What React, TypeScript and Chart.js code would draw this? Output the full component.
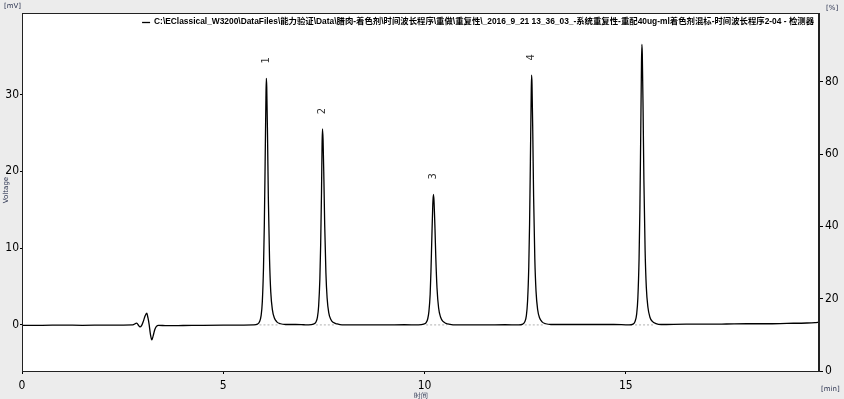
import React, { useEffect, useRef } from "react";
import { Chart, registerables } from "chart.js";

Chart.register(...registerables);

// ---- data (time in min, signal in mV) ----
const baseTime = [0, 0.5, 1.0, 1.5, 2.0, 2.5, 2.75, 2.85, 2.9, 2.93, 2.97, 3.01, 3.06, 3.1, 3.13, 3.16, 3.19, 3.226, 3.26, 3.3, 3.34, 3.39, 3.6, 4.0, 4.5, 5.0, 5.5, 6.8, 7.0, 8.5, 9.0, 9.5, 11.5, 12.0, 13.6, 14.2, 14.7, 16.5, 17.0, 17.5, 18.0, 18.5, 19.0, 19.5, 19.7, 19.8];
const baseMv = [-0.05, -0.05, -0.02, -0.05, -0.03, -0.02, 0.0, 0.22, -0.1, -0.26, -0.1, 0.4, 1.2, 1.52, 0.9, 0.0, -1.2, -1.95, -1.4, -0.6, -0.2, -0.05, -0.1, -0.08, -0.05, -0.03, -0.02, 0.05, 0.02, 0.0, 0.0, 0.02, 0.0, 0.02, 0.05, 0.05, 0.05, 0.1, 0.1, 0.12, 0.15, 0.15, 0.2, 0.25, 0.3, 0.35];

const peak1Time = [5.75, 5.85, 5.9, 5.94, 5.97, 6.0, 6.02, 6.04, 6.06, 6.07, 6.08, 6.1, 6.12, 6.15, 6.18, 6.22, 6.27, 6.33, 6.42, 6.55];
const peak1Mv = [0.0, 0.1, 0.4, 1.2, 3.0, 7.5, 13.0, 21.0, 29.5, 32.1, 31.0, 24.5, 16.5, 8.5, 4.3, 2.0, 0.9, 0.4, 0.15, 0.05];

const peak2Time = [7.12, 7.24, 7.3, 7.34, 7.37, 7.4, 7.42, 7.44, 7.455, 7.465, 7.48, 7.5, 7.52, 7.55, 7.58, 7.62, 7.67, 7.74, 7.83, 7.95];
const peak2Mv = [0.0, 0.1, 0.35, 1.0, 2.5, 6.0, 10.5, 17.0, 23.5, 25.5, 24.0, 19.0, 13.0, 6.8, 3.5, 1.6, 0.75, 0.3, 0.12, 0.0];

const peak3Time = [9.85, 9.98, 10.04, 10.08, 10.11, 10.14, 10.16, 10.18, 10.205, 10.22, 10.235, 10.26, 10.28, 10.31, 10.35, 10.4, 10.46, 10.53, 10.63, 10.76];
const peak3Mv = [0.0, 0.1, 0.3, 0.8, 1.8, 4.0, 7.0, 11.0, 15.6, 17.0, 16.2, 12.5, 8.8, 4.8, 2.2, 1.0, 0.45, 0.2, 0.08, 0.0];

const peak4Time = [12.34, 12.44, 12.49, 12.53, 12.56, 12.59, 12.61, 12.63, 12.65, 12.66, 12.67, 12.69, 12.71, 12.74, 12.77, 12.81, 12.86, 12.92, 13.01, 13.14];
const peak4Mv = [0.0, 0.1, 0.4, 1.2, 3.1, 7.6, 13.2, 21.3, 29.9, 32.5, 31.4, 24.8, 16.7, 8.6, 4.4, 2.0, 0.9, 0.4, 0.15, 0.05];

const peak5Time = [15.08, 15.18, 15.23, 15.27, 15.3, 15.33, 15.35, 15.37, 15.39, 15.4, 15.41, 15.43, 15.45, 15.48, 15.51, 15.55, 15.6, 15.66, 15.75, 15.88];
const peak5Mv = [0.0, 0.1, 0.45, 1.4, 3.5, 8.6, 15.0, 24.2, 34.0, 36.5, 35.3, 27.9, 18.8, 9.7, 4.9, 2.3, 1.0, 0.45, 0.17, 0.05];

// peak annotations
const peakLabels = ["1", "2", "3", "4"];
const peakLabelTime = [6.07, 7.465, 10.22, 12.66];
const peakLabelMv = [32.1, 25.5, 17.0, 32.5];

// integration baselines (start/end times)
const intStart = [5.9, 7.3, 10.04, 12.49, 15.23];
const intEnd = [6.35, 7.76, 10.55, 12.94, 15.68];

const xTicks = [0, 5, 10, 15];
const yLeftTicks = [0, 10, 20, 30];
const yRightTicks = [0, 20, 40, 60, 80];

const legendText =
  "C:\\EClassical_W3200\\DataFiles\\能力验证\\Data\\腊肉-着色剂\\时间波长程序\\重做\\重复性\\_2016_9_21 13_36_03_-系统重复性-重配40ug-ml着色剂混标-时间波长程序2-04 - 检测器";

const TICK_FONT = "'DejaVu Sans Condensed', 'Liberation Sans Narrow', sans-serif";

function buildTrace() {
  const pts: { x: number; y: number }[] = [];
  const add = (t: number[], v: number[]) => t.forEach((x, i) => pts.push({ x, y: v[i] }));
  add(baseTime, baseMv);
  add(peak1Time, peak1Mv);
  add(peak2Time, peak2Mv);
  add(peak3Time, peak3Mv);
  add(peak4Time, peak4Mv);
  add(peak5Time, peak5Mv);
  pts.sort((a, b) => a.x - b.x);
  return pts;
}

const decorPlugin = {
  id: "decor",
  beforeDraw(chart: any) {
    const { ctx, chartArea } = chart;
    ctx.save();
    ctx.fillStyle = "#ececec";
    ctx.fillRect(0, 0, chart.width, chart.height);
    ctx.fillStyle = "#ffffff";
    ctx.fillRect(chartArea.left, chartArea.top, chartArea.right - chartArea.left, chartArea.bottom - chartArea.top);
    ctx.restore();
  },
  afterDatasetsDraw(chart: any) {
    const { ctx } = chart;
    const xs = chart.scales.x;
    const ys = chart.scales.y;
    ctx.save();
    ctx.fillStyle = "#333333";
    ctx.font = "10px 'DejaVu Sans', sans-serif";
    ctx.textAlign = "center";
    ctx.textBaseline = "middle";
    peakLabels.forEach((lab, i) => {
      const px = xs.getPixelForValue(peakLabelTime[i]);
      const py = ys.getPixelForValue(peakLabelMv[i]) - 18;
      ctx.save();
      ctx.translate(px, py);
      ctx.rotate(-Math.PI / 2);
      ctx.fillText(lab, 0, 0);
      ctx.restore();
    });
    ctx.restore();
  },
  afterDraw(chart: any) {
    const { ctx, chartArea } = chart;
    ctx.save();
    ctx.strokeStyle = "#222";
    ctx.lineWidth = 1;
    ctx.strokeRect(chartArea.left + 0.5, chartArea.top + 0.5, chartArea.right - chartArea.left - 1, chartArea.bottom - chartArea.top);

    // legend (series name) inside plot, top right
    ctx.fillStyle = "#000";
    ctx.font = "bold 8.4px 'Liberation Sans', 'Noto Sans CJK SC', sans-serif";
    ctx.textBaseline = "middle";
    ctx.textAlign = "right";
    const textRight = chartArea.right - 5;
    const ly = chartArea.top + 9;
    ctx.fillText(chart.data.datasets[0].label, textRight, ly);
    const w = ctx.measureText(chart.data.datasets[0].label).width;
    ctx.strokeStyle = "#000";
    ctx.lineWidth = 1.3;
    ctx.beginPath();
    ctx.moveTo(textRight - w - 12, ly + 0.5);
    ctx.lineTo(textRight - w - 4, ly + 0.5);
    ctx.stroke();

    ctx.fillStyle = "#2b3350";
    ctx.font = "7px 'DejaVu Sans', sans-serif";
    ctx.textAlign = "left";
    ctx.fillText("[mV]", 4, 6);
    ctx.fillText("[%]", 826, 8);
    ctx.fillText("[min]", 821, 389);
    ctx.textAlign = "center";
    ctx.fillText("时间", (chartArea.left + chartArea.right) / 2, 396);
    ctx.save();
    ctx.translate(6, 190);
    ctx.rotate(-Math.PI / 2);
    ctx.fillText("Voltage", 0, 0);
    ctx.restore();
    ctx.restore();
  },
};

export default function App() {
  const ref = useRef<HTMLCanvasElement | null>(null);
  useEffect(() => {
    if (!ref.current) return;
    const trace = buildTrace();
    const intSets = intStart.map((s, i) => ({
      label: "int" + i,
      data: [
        { x: s, y: 0 },
        { x: intEnd[i], y: 0 },
      ],
      borderColor: "#b0b0b0",
      borderWidth: 1,
      borderDash: [2, 2],
      pointRadius: 0,
      yAxisID: "y",
    }));
    const chart = new Chart(ref.current, {
      type: "line",
      data: {
        datasets: [
          {
            label: legendText,
            data: trace,
            borderColor: "#000000",
            backgroundColor: "#000000",
            borderWidth: 1.3,
            pointRadius: 0,
            cubicInterpolationMode: "monotone",
            yAxisID: "y",
          },
          ...intSets,
        ] as any,
      },
      options: {
        responsive: false,
        animation: false,
        devicePixelRatio: 1,
        parsing: false as any,
        layout: { padding: { top: 13, left: 0, right: 0, bottom: 0 } },
        plugins: {
          legend: { display: false },
          tooltip: { enabled: false },
        },
        scales: {
          x: {
            type: "linear",
            min: 0,
            max: 19.8,
            afterBuildTicks: (s: any) => {
              s.ticks = xTicks.map((v) => ({ value: v }));
            },
            afterFit: (s: any) => {
              s.height = 28;
            },
            ticks: { color: "#000", padding: 5, font: { size: 12, family: TICK_FONT }, maxRotation: 0 },
            grid: { drawOnChartArea: false, drawTicks: true, tickLength: 3, color: "#000" },
            border: { display: true, color: "#222" },
          },
          y: {
            type: "linear",
            position: "left",
            min: -6,
            max: 40.6,
            afterBuildTicks: (s: any) => {
              s.ticks = yLeftTicks.map((v) => ({ value: v }));
            },
            afterFit: (s: any) => {
              s.width = 22;
            },
            ticks: { color: "#000", padding: 1, font: { size: 12, family: TICK_FONT } },
            grid: { drawOnChartArea: false, drawTicks: true, tickLength: 2, color: "#000" },
            border: { display: true, color: "#222" },
          },
          y2: {
            type: "linear",
            position: "right",
            min: 0,
            max: 99,
            afterBuildTicks: (s: any) => {
              s.ticks = yRightTicks.map((v) => ({ value: v }));
            },
            afterFit: (s: any) => {
              s.width = 25;
            },
            ticks: { color: "#000", padding: 2, labelOffset: 0, font: { size: 12, family: TICK_FONT } },
            grid: { drawOnChartArea: false, drawTicks: true, tickLength: 4, color: "#000" },
            border: { display: true, color: "#222" },
          },
        },
      },
      plugins: [decorPlugin],
    } as any);
    return () => chart.destroy();
  }, []);
  return (
    <div style={{ position: "fixed", left: 0, top: 0, width: 844, height: 399, background: "#ececec" }}>
      <canvas ref={ref} width={844} height={399} style={{ display: "block", width: 844, height: 399 }} />
    </div>
  );
}
